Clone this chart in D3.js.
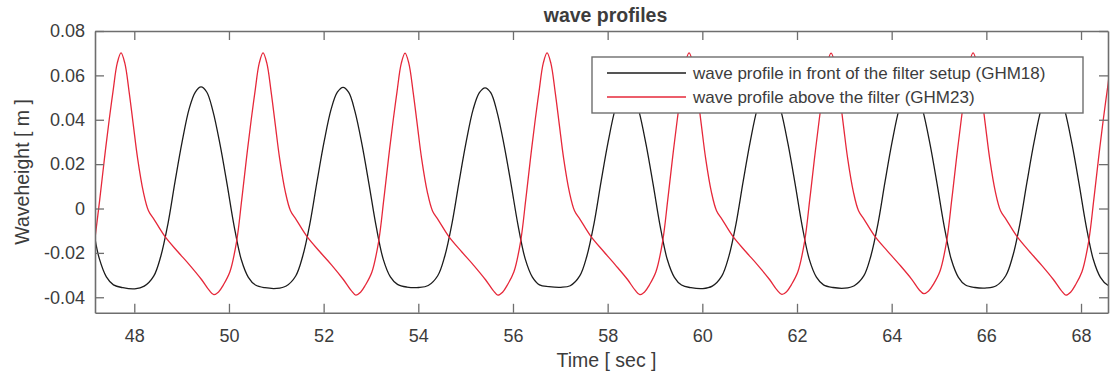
<!DOCTYPE html>
<html>
<head>
<meta charset="utf-8">
<script src="https://cdn.jsdelivr.net/npm/d3@7"></script>
<style>
  html, body { margin: 0; padding: 0; background: #fff; }
  svg { display: block; }
  text { font-family: "Liberation Sans", Arial, sans-serif; fill: #3c3c3c; }
</style>
</head>
<body>
<svg id="chart" width="1110" height="376"></svg>
<script>
// Gauge GHM18: wave profile in front of the filter setup
const timeGHM18 = [
  47.17, 47.26, 47.41, 47.56, 47.76, 48.01,
  48.21, 48.41, 48.56, 48.71, 48.86, 49.01, 49.16, 49.29, 49.41, 49.53, 49.66, 49.81, 49.96, 50.11, 50.26, 50.41, 50.56, 50.76, 51.01,
  51.21, 51.41, 51.56, 51.71, 51.86, 52.01, 52.16, 52.29, 52.41, 52.53, 52.66, 52.81, 52.96, 53.11, 53.26, 53.41, 53.56, 53.76, 54.01,
  54.21, 54.41, 54.56, 54.71, 54.86, 55.01, 55.16, 55.29, 55.41, 55.53, 55.66, 55.81, 55.96, 56.11, 56.26, 56.41, 56.56, 56.76, 57.01,
  57.21, 57.41, 57.56, 57.71, 57.86, 58.01, 58.16, 58.29, 58.41, 58.53, 58.66, 58.81, 58.96, 59.11, 59.26, 59.41, 59.56, 59.76, 60.01,
  60.21, 60.41, 60.56, 60.71, 60.86, 61.01, 61.16, 61.29, 61.41, 61.53, 61.66, 61.81, 61.96, 62.11, 62.26, 62.41, 62.56, 62.76, 63.01,
  63.21, 63.41, 63.56, 63.71, 63.86, 64.01, 64.16, 64.29, 64.41, 64.53, 64.66, 64.81, 64.96, 65.11, 65.26, 65.41, 65.56, 65.76, 66.01,
  66.21, 66.41, 66.56, 66.71, 66.86, 67.01, 67.16, 67.29, 67.41, 67.53, 67.66, 67.81, 67.96, 68.11, 68.26, 68.41, 68.56, 68.76
];
const heightGHM18 = [
  -0.0137, -0.0225, -0.0308, -0.0344, -0.0357, -0.0362,
  -0.0350, -0.0305, -0.0215, -0.0070, 0.0120, 0.0300, 0.0450, 0.0525, 0.0548, 0.0525, 0.0440, 0.0290, 0.0110, -0.0080, -0.0230, -0.0310, -0.0345, -0.0357, -0.0360,
  -0.0349, -0.0304, -0.0213, -0.0068, 0.0121, 0.0301, 0.0449, 0.0524, 0.0546, 0.0523, 0.0439, 0.0289, 0.0108, -0.0081, -0.0229, -0.0308, -0.0342, -0.0354, -0.0356,
  -0.0347, -0.0303, -0.0214, -0.0069, 0.0119, 0.0299, 0.0448, 0.0522, 0.0544, 0.0522, 0.0438, 0.0288, 0.0109, -0.0079, -0.0228, -0.0309, -0.0344, -0.0352, -0.0355,
  -0.0348, -0.0304, -0.0215, -0.0070, 0.0120, 0.0300, 0.0449, 0.0525, 0.0547, 0.0524, 0.0440, 0.0290, 0.0110, -0.0080, -0.0230, -0.0310, -0.0345, -0.0357, -0.0361,
  -0.0350, -0.0305, -0.0216, -0.0071, 0.0119, 0.0299, 0.0449, 0.0524, 0.0547, 0.0525, 0.0441, 0.0291, 0.0111, -0.0079, -0.0229, -0.0309, -0.0344, -0.0356, -0.0359,
  -0.0348, -0.0304, -0.0214, -0.0069, 0.0121, 0.0301, 0.0450, 0.0525, 0.0548, 0.0525, 0.0440, 0.0290, 0.0110, -0.0080, -0.0230, -0.0310, -0.0345, -0.0356, -0.0358,
  -0.0348, -0.0303, -0.0213, -0.0068, 0.0121, 0.0301, 0.0450, 0.0525, 0.0547, 0.0524, 0.0440, 0.0290, 0.0110, -0.0080, -0.0230, -0.0310, -0.0345, -0.0357
];

// Gauge GHM23: wave profile above the filter
const timeGHM23 = [
  47.17, 47.27, 47.37, 47.47, 47.55, 47.64, 47.72, 47.80, 47.89, 47.98, 48.07, 48.19, 48.30, 48.42, 48.65, 48.92, 49.17, 49.42, 49.58, 49.68,
  49.78, 49.88, 50.02, 50.16, 50.27, 50.37, 50.47, 50.55, 50.64, 50.72, 50.80, 50.89, 50.98, 51.07, 51.19, 51.30, 51.42, 51.65, 51.92, 52.17, 52.42, 52.58, 52.68,
  52.78, 52.88, 53.02, 53.16, 53.27, 53.37, 53.47, 53.55, 53.64, 53.72, 53.80, 53.89, 53.98, 54.07, 54.19, 54.30, 54.42, 54.65, 54.92, 55.17, 55.42, 55.58, 55.68,
  55.78, 55.88, 56.02, 56.16, 56.27, 56.37, 56.47, 56.55, 56.64, 56.72, 56.80, 56.89, 56.98, 57.07, 57.19, 57.30, 57.42, 57.65, 57.92, 58.17, 58.42, 58.58, 58.68,
  58.78, 58.88, 59.02, 59.16, 59.27, 59.37, 59.47, 59.55, 59.64, 59.72, 59.80, 59.89, 59.98, 60.07, 60.19, 60.30, 60.42, 60.65, 60.92, 61.17, 61.42, 61.58, 61.68,
  61.78, 61.88, 62.02, 62.16, 62.27, 62.37, 62.47, 62.55, 62.64, 62.72, 62.80, 62.89, 62.98, 63.07, 63.19, 63.30, 63.42, 63.65, 63.92, 64.17, 64.42, 64.58, 64.68,
  64.78, 64.88, 65.02, 65.16, 65.27, 65.37, 65.47, 65.55, 65.64, 65.72, 65.80, 65.89, 65.98, 66.07, 66.19, 66.30, 66.42, 66.65, 66.92, 67.17, 67.42, 67.58, 67.68,
  67.78, 67.88, 68.02, 68.16, 68.27, 68.37, 68.47, 68.55, 68.64, 68.72
];
const heightGHM23 = [
  -0.0134, 0.0040, 0.0226, 0.0400, 0.0527, 0.0655, 0.0701, 0.0655, 0.0527, 0.0376, 0.0226, 0.0076, -0.0010, -0.0050, -0.0127, -0.0195, -0.0255, -0.0320, -0.0368, -0.0388,
  -0.0376, -0.0345, -0.0285, -0.0150, 0.0040, 0.0226, 0.0400, 0.0527, 0.0655, 0.0701, 0.0655, 0.0527, 0.0376, 0.0226, 0.0076, -0.0010, -0.0050, -0.0127, -0.0195, -0.0255, -0.0321, -0.0369, -0.0390,
  -0.0377, -0.0346, -0.0286, -0.0151, 0.0039, 0.0225, 0.0399, 0.0526, 0.0654, 0.0700, 0.0654, 0.0526, 0.0375, 0.0225, 0.0075, -0.0011, -0.0051, -0.0128, -0.0196, -0.0256, -0.0321, -0.0369, -0.0390,
  -0.0377, -0.0345, -0.0285, -0.0150, 0.0040, 0.0226, 0.0400, 0.0527, 0.0655, 0.0701, 0.0655, 0.0527, 0.0376, 0.0226, 0.0076, -0.0010, -0.0050, -0.0127, -0.0195, -0.0256, -0.0320, -0.0368, -0.0388,
  -0.0376, -0.0345, -0.0285, -0.0150, 0.0040, 0.0226, 0.0400, 0.0527, 0.0655, 0.0701, 0.0655, 0.0527, 0.0376, 0.0226, 0.0076, -0.0010, -0.0050, -0.0127, -0.0195, -0.0255, -0.0320, -0.0368, -0.0387,
  -0.0375, -0.0344, -0.0284, -0.0149, 0.0041, 0.0227, 0.0401, 0.0528, 0.0655, 0.0700, 0.0655, 0.0527, 0.0376, 0.0226, 0.0076, -0.0010, -0.0050, -0.0127, -0.0194, -0.0254, -0.0318, -0.0366, -0.0384,
  -0.0372, -0.0342, -0.0283, -0.0149, 0.0041, 0.0227, 0.0401, 0.0528, 0.0655, 0.0701, 0.0655, 0.0527, 0.0376, 0.0226, 0.0076, -0.0010, -0.0050, -0.0127, -0.0196, -0.0256, -0.0321, -0.0369, -0.0390,
  -0.0377, -0.0345, -0.0285, -0.0150, 0.0040, 0.0226, 0.0400, 0.0527, 0.0655, 0.0700
];

const xTicks = [48, 50, 52, 54, 56, 58, 60, 62, 64, 66, 68];
const yTicks = [-0.04, -0.02, 0, 0.02, 0.04, 0.06, 0.08];
const yTickLabels = ["-0.04", "-0.02", "0", "0.02", "0.04", "0.06", "0.08"];
const legendLabels = [
  "wave profile in front of the filter setup (GHM18)",
  "wave profile above the filter (GHM23)"
];
const titleText = "wave profiles";
const xLabelText = "Time [ sec ]";
const yLabelText = "Waveheight [ m ]";

const axisColor = "#6e6e6e";
const seriesColors = ["#1c1c1c", "#e6283a"];

const svg = d3.select("#chart");
const plot = { left: 95, top: 31, right: 1108, bottom: 312.8 };

const x = d3.scaleLinear().domain([47.17, 68.57]).range([plot.left, plot.right]);
const y = d3.scaleLinear().domain([-0.047, 0.08]).range([plot.bottom, plot.top]);

svg.append("defs").append("clipPath").attr("id", "plotClip")
  .append("rect")
  .attr("x", plot.left).attr("y", plot.top)
  .attr("width", plot.right - plot.left).attr("height", plot.bottom - plot.top);

// series lines
const series = [
  { t: timeGHM18, v: heightGHM18, color: seriesColors[0] },
  { t: timeGHM23, v: heightGHM23, color: seriesColors[1] }
];
const line = d3.line()
  .x(d => x(d[0]))
  .y(d => y(d[1]))
  .curve(d3.curveCatmullRom.alpha(0.5));

const lines = svg.append("g").attr("clip-path", "url(#plotClip)");
series.forEach(s => {
  lines.append("path")
    .datum(d3.zip(s.t, s.v))
    .attr("fill", "none")
    .attr("stroke", s.color)
    .attr("stroke-width", 1.3)
    .attr("stroke-linejoin", "round")
    .attr("d", line);
});

// axes: ticks point inward, box closed on all four sides
function styleAxis(g) {
  g.select(".domain").attr("stroke", axisColor).attr("stroke-width", 1.6);
  g.selectAll(".tick line").attr("stroke", axisColor).attr("stroke-width", 1.3);
  g.selectAll(".tick text")
    .attr("fill", "#3c3c3c")
    .style("font-size", "18px")
    .style("font-family", '"Liberation Sans", Arial, sans-serif');
}

svg.append("g")
  .attr("transform", `translate(0,${plot.bottom})`)
  .call(d3.axisBottom(x).tickValues(xTicks).tickSizeInner(-9).tickSizeOuter(0).tickPadding(16))
  .call(styleAxis);

svg.append("g")
  .attr("transform", `translate(0,${plot.top})`)
  .call(d3.axisTop(x).tickValues(xTicks).tickSizeInner(-9).tickSizeOuter(0).tickFormat(() => ""))
  .call(styleAxis);

svg.append("g")
  .attr("transform", `translate(${plot.left},0)`)
  .call(d3.axisLeft(y).tickValues(yTicks).tickSizeInner(-9).tickSizeOuter(0).tickPadding(10)
    .tickFormat((d, i) => yTickLabels[i]))
  .call(styleAxis);

svg.append("g")
  .attr("transform", `translate(${plot.right},0)`)
  .call(d3.axisRight(y).tickValues(yTicks).tickSizeInner(-9).tickSizeOuter(0).tickFormat(() => ""))
  .call(styleAxis);

// title and axis labels
svg.append("text")
  .attr("x", (plot.left + plot.right) / 2 + 4).attr("y", 22)
  .attr("text-anchor", "middle")
  .style("font-size", "19.5px").style("font-weight", "bold")
  .attr("fill", "#222")
  .text(titleText);

svg.append("text")
  .attr("x", (plot.left + plot.right) / 2 + 5).attr("y", 367)
  .attr("text-anchor", "middle")
  .style("font-size", "19.5px")
  .text(xLabelText);

svg.append("text")
  .attr("transform", `translate(29,${(plot.top + plot.bottom) / 2}) rotate(-90)`)
  .attr("text-anchor", "middle")
  .style("font-size", "19.5px")
  .text(yLabelText);

// legend
const legend = svg.append("g");
legend.append("rect")
  .attr("x", 592).attr("y", 57).attr("width", 491).attr("height", 56)
  .attr("fill", "#fff").attr("stroke", axisColor).attr("stroke-width", 1.4);
legendLabels.forEach((label, i) => {
  const ly = 73 + i * 24;
  legend.append("line")
    .attr("x1", 607).attr("x2", 686).attr("y1", ly).attr("y2", ly)
    .attr("stroke", seriesColors[i]).attr("stroke-width", 1.3);
  legend.append("text")
    .attr("x", 693).attr("y", ly + 6)
    .style("font-size", "17px")
    .text(label);
});
</script>
</body>
</html>
